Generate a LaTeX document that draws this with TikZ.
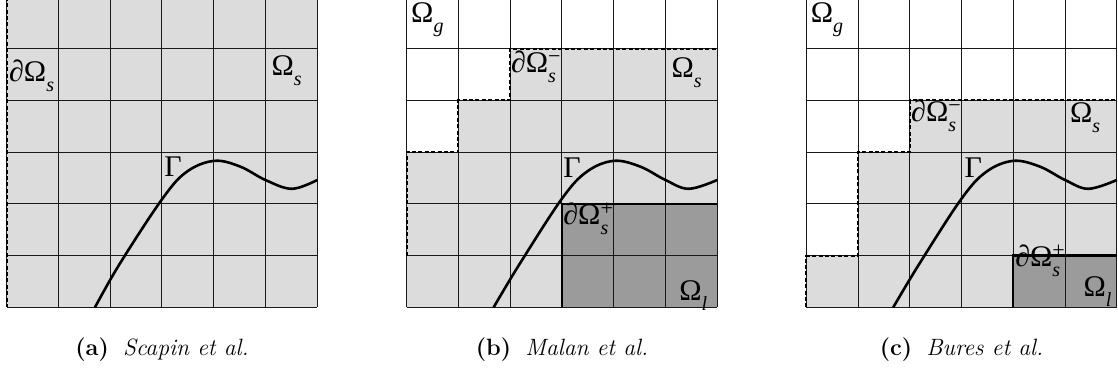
\documentclass[tikz,border=0pt]{standalone}
\usepackage{fontspec}
\newfontfamily\tms{Liberation Serif}
\definecolor{lightcell}{RGB}{220,220,220}
\definecolor{darkcell}{RGB}{155,155,155}
\newcommand{\lblsz}{\tms\fontsize{15}{15}\selectfont}
\newcommand{\Sb}[1]{\raisebox{-5pt}{\fontsize{10}{10}\selectfont\itshape #1}}
\newcommand{\SbSp}[2]{\makebox[0pt][l]{\raisebox{4.6pt}{\fontsize{11}{11}\selectfont #2}}\raisebox{-5pt}{\fontsize{10}{10}\selectfont\itshape #1}}
\begin{document}
\begin{tikzpicture}[
  cellgrid/.style={black!90, line width=0.5pt},
  bnd/.style={black, line width=1pt, dash pattern=on 2pt off 1.2pt},
  liqedge/.style={black, line width=1.1pt},
  iface/.style={black, line width=1.3pt},
  lbl/.style={inner sep=0pt, anchor=base west, font=\lblsz},
  captext/.style={inner sep=0pt, anchor=base, font=\fontsize{11.8}{13}\selectfont}
]
\useasboundingbox (0,0) rectangle (559pt,-188pt);

% ---------- panel (a) ----------
\begin{scope}[shift={(3.35pt,1.6pt)}, x=25.875pt, y=-25.875pt]
  \fill[lightcell] (0,0) rectangle (6,6);
  \foreach \i in {0,...,6} {
    \draw[cellgrid] (\i,0) -- (\i,6);
    \draw[cellgrid] (0,\i) -- (6,\i);
  }
  \draw[bnd] (0,0) -- (0,6);
  \draw[iface] plot[smooth, tension=0.6] coordinates {(1.706,6) (2.19,5.15) (3.01,3.9) (3.48,3.38) (4.01,3.17) (4.51,3.28) (5,3.54) (5.51,3.71) (6,3.54)};
  \node[lbl] (adOs) at (0.04,1.64) {∂Ω\Sb{s}};
  \node[lbl] (aOs) at (5.11,1.53) {Ω\Sb{s}};
  \node[lbl] (aG) at (3.04,3.48) {Γ};
\end{scope}
\node[captext] (capa) at (81pt,-177.5pt) {\textbf{(a)}\hspace{0.6em}\textit{Scapin et al.}};

% ---------- panel (b) ----------
\begin{scope}[shift={(203.35pt,1.6pt)}, x=25.875pt, y=-25.875pt]
  \fill[lightcell] (0,6) -- (0,3) -- (1,3) -- (1,2) -- (2,2) -- (2,1) -- (6,1) -- (6,6) -- cycle;
  \fill[darkcell] (3,4) rectangle (6,6);
  \foreach \i in {0,...,6} {
    \draw[cellgrid] (\i,0) -- (\i,6);
    \draw[cellgrid] (0,\i) -- (6,\i);
  }
  \draw[bnd] (0,5) -- (0,3) -- (1,3) -- (1,2) -- (2,2) -- (2,1) -- (6,1);
  \draw[liqedge] (6,4) -- (3,4) -- (3,6);
  \draw[iface] plot[smooth, tension=0.6] coordinates {(1.68,6) (2.19,5.15) (3.0,3.9) (3.48,3.38) (4.0,3.17) (4.51,3.28) (5,3.54) (5.45,3.71) (6,3.54)};
  \node[lbl] (bOg) at (0.08,0.49) {Ω\Sb{g}};
  \node[lbl] (bdOm) at (2.01,1.47) {∂Ω\SbSp{s}{−}};
  \node[lbl] (bOs) at (5.11,1.55) {Ω\Sb{s}};
  \node[lbl] (bG) at (3.02,3.49) {Γ};
  \node[lbl] (bdOp) at (3.02,4.40) {∂Ω\SbSp{s}{+}};
  \node[lbl] (bOl) at (5.26,5.87) {Ω\Sb{l}};
\end{scope}
\node[captext] (capb) at (281pt,-177.5pt) {\textbf{(b)}\hspace{0.6em}\textit{Malan et al.}};

% ---------- panel (c) ----------
\begin{scope}[shift={(403.15pt,1.6pt)}, x=25.875pt, y=-25.875pt]
  \fill[lightcell] (0,6) -- (0,5) -- (1,5) -- (1,3) -- (2,3) -- (2,2) -- (6,2) -- (6,6) -- cycle;
  \fill[darkcell] (4,5) rectangle (6,6);
  \foreach \i in {0,...,6} {
    \draw[cellgrid] (\i,0) -- (\i,6);
    \draw[cellgrid] (0,\i) -- (6,\i);
  }
  \draw[bnd] (0,6) -- (0,5) -- (1,5) -- (1,3) -- (2,3) -- (2,2) -- (6,2);
  \draw[liqedge] (6,5) -- (4,5) -- (4,6);
  \draw[iface] plot[smooth, tension=0.6] coordinates {(1.68,6) (2.19,5.15) (3.0,3.9) (3.48,3.38) (4.0,3.17) (4.51,3.28) (5,3.54) (5.45,3.71) (6,3.54)};
  \node[lbl] (cOg) at (0.08,0.49) {Ω\Sb{g}};
  \node[lbl] (cdOm) at (2.02,2.41) {∂Ω\SbSp{s}{−}};
  \node[lbl] (cOs) at (5.09,2.43) {Ω\Sb{s}};
  \node[lbl] (cG) at (3.05,3.5) {Γ};
  \node[lbl] (cdOp) at (4.03,5.22) {∂Ω\SbSp{s}{+}};
  \node[lbl] (cOl) at (5.35,5.8) {Ω\Sb{l}};
\end{scope}
\node[captext] (capc) at (480.75pt,-177.5pt) {\textbf{(c)}\hspace{0.6em}\textit{Bures et al.}};
\end{tikzpicture}
\end{document}
